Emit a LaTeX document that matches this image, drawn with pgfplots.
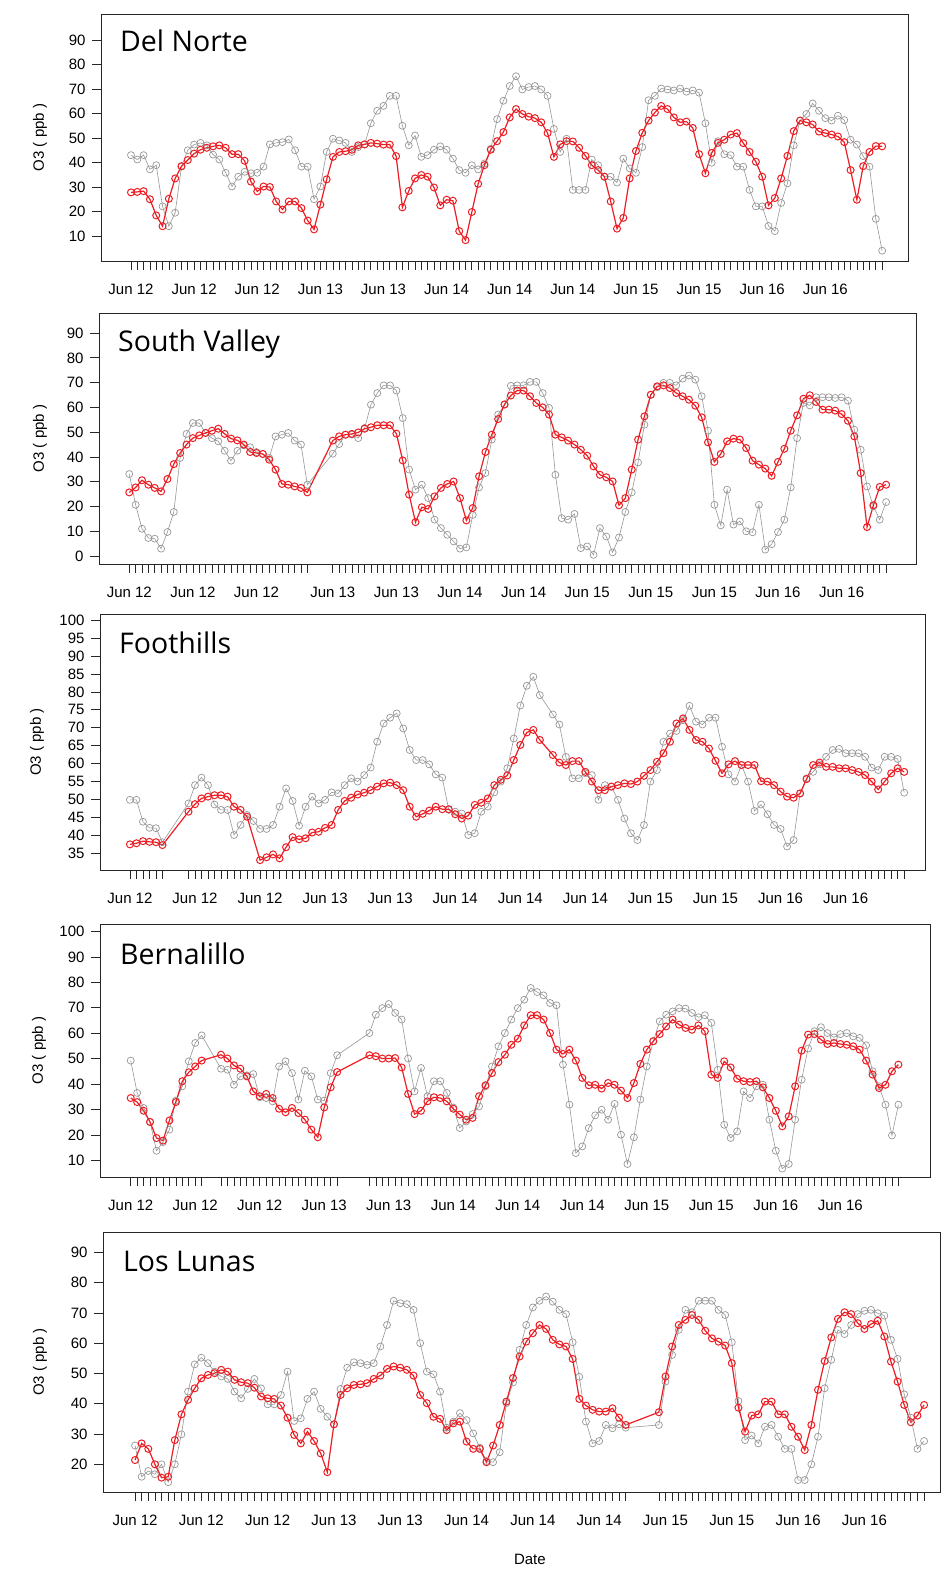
\documentclass[border=0pt]{standalone}
\usepackage{fontspec}
\setmainfont{Liberation Sans}
\newfontfamily\titlefont{Open Sans}
\usepackage{pgfplots}
\pgfplotsset{compat=1.18}
\definecolor{obsred}{RGB}{236,30,36}
\definecolor{modgray}{RGB}{150,150,150}
\tikzset{ttl/.style={font=\titlefont\fontsize{28.5}{30}\selectfont, anchor=base west, inner sep=0pt}}
\pgfplotsset{
  panel/.style={
    scale only axis, anchor=north west,
    axis line style={black!85, line width=0.8pt},
    tick align=outside, major tick length=9pt,
    every tick/.style={black!85, line width=0.7pt},
    xtick pos=bottom, ytick pos=left,
    xtick=data, xticklabels={},
    font=\fontsize{15}{17}\selectfont,
    tick label style={font=\fontsize{15}{17}\selectfont},
    /pgf/number format/assume math mode=true,
    yticklabel style={xshift=-3pt},
    xticklabel style={yshift=-10pt, text height=11pt, text depth=3pt},
    ylabel={O3 ( ppb )},
    ylabel style={anchor=center},
  },
  grayser/.style={draw=modgray, line width=0.6pt, mark=o, mark size=3.5pt,
    mark options={draw=modgray, line width=0.7pt, solid}},
  redser/.style={draw=obsred, line width=1.2pt, mark=o, mark size=3.5pt,
    mark options={draw=obsred, line width=1pt, solid}},
}
\begin{document}
\begin{tikzpicture}
\path[use as bounding box] (0pt,0pt) rectangle (952pt,-1570pt);

% ---------------- Del Norte
\begin{axis}[panel, at={(101pt,-14pt)}, width=807pt, height=247pt,
  xmin=-4.75, xmax=123.1, ymin=-0.2, ymax=100.6, ytick={10,20,...,90},
  extra x ticks={0,10,...,110},
  extra x tick labels={Jun 12,Jun 12,Jun 12,Jun 13,Jun 13,Jun 14,Jun 14,Jun 14,Jun 15,Jun 15,Jun 16,Jun 16},
  ylabel style={at={(axis description cs:-0.0756,0.5)}}]
\addplot[grayser] coordinates {(0,43)(1,41.2)(2,43)(3,37.2)(4,38.9)(5,22.1)(6,14)(7,19.5)(8,38.3)(9,45)(10,47.3)(11,48)(12,47)(13,43.2)(14,41.2)(15,35.8)(16,30.2)(17,34.2)(18,36.2)(19,35.6)(20,35.8)(21,38.3)(22,47.4)(23,48)(24,48.3)(25,49.4)(26,45)(27,38.3)(28,38.3)(29,25)(30,30.2)(31,44.3)(32,49.7)(33,49)(34,48)(35,44.3)(36,46.3)(37,47.3)(38,56)(39,61.1)(40,63.1)(41,67.2)(42,67.2)(43,55)(44,47)(45,51)(46,42.3)(47,43)(48,45.2)(49,46.6)(50,45.2)(51,41.6)(52,36.9)(53,35.8)(54,38.9)(55,37.2)(56,39.6)(57,45.6)(58,57.7)(59,65.2)(60,71.2)(61,75.2)(62,69.8)(63,70.8)(64,71.2)(65,69.8)(66,67.2)(67,53.7)(68,44.3)(69,49.7)(70,28.8)(71,28.8)(72,28.8)(73,41.2)(74,38.9)(75,34.2)(76,34.2)(77,31.8)(78,41.6)(79,37.6)(80,35.8)(81,46.3)(82,65.4)(83,67.2)(84,70.2)(85,69.8)(86,69.4)(87,70.2)(88,68.9)(89,69.4)(90,68.5)(91,56)(92,39.9)(93,48.7)(94,43.4)(95,43)(96,38.3)(97,38.3)(98,28.8)(99,22.1)(100,22.1)(101,14.1)(102,12)(103,23.5)(104,31.5)(105,47)(106,57.1)(107,59.8)(108,64.1)(109,61.1)(110,58.1)(111,57.1)(112,59.1)(113,57.3)(114,49.3)(115,47.3)(116,42.6)(117,38.3)(118,17)(119,4)};
\addplot[redser] coordinates {(0,27.8)(1,28)(2,28.3)(3,25)(4,18.4)(5,14)(6,25.2)(7,33.5)(8,38.5)(9,41)(10,43.6)(11,45.2)(12,46)(13,46.6)(14,47)(15,46)(16,43.4)(17,43.4)(18,40.7)(19,32.2)(20,28.2)(21,30.2)(22,30)(23,24.1)(24,20.8)(25,24.1)(26,24.1)(27,21.4)(28,16.3)(29,12.7)(30,22.8)(31,33.1)(32,42.3)(33,44.3)(34,44.6)(35,45.2)(36,47)(37,47.4)(38,48)(39,47.7)(40,47.3)(41,47.3)(42,42.6)(43,21.7)(44,28.4)(45,33.5)(46,34.9)(47,34.2)(48,29.8)(49,22.5)(50,24.8)(51,24.4)(52,12)(53,8.3)(54,19.8)(55,31.3)(56,38.9)(57,45.2)(58,48.7)(59,52.4)(60,58.4)(61,61.8)(62,59.8)(63,58.7)(64,58.1)(65,56.4)(66,52)(67,42.3)(68,47.4)(69,48.7)(70,48.6)(71,46)(72,42.7)(73,38.9)(74,36.9)(75,34.2)(76,24.1)(77,13)(78,17.4)(79,33.5)(80,44.7)(81,52.1)(82,57.1)(83,60.4)(84,63.1)(85,61.8)(86,58.4)(87,56.4)(88,56.7)(89,54.1)(90,43.4)(91,35.6)(92,43.9)(93,48)(94,49.3)(95,51.4)(96,52)(97,47.9)(98,44.3)(99,40.3)(100,34.2)(101,22.5)(102,25.5)(103,33.5)(104,42.7)(105,52.8)(106,57.1)(107,56.4)(108,55.5)(109,52.6)(110,52)(111,51.4)(112,50.6)(113,48.3)(114,36.9)(115,24.8)(116,38.5)(117,44.3)(118,46.7)(119,46.6)};
\node[ttl, xshift=19pt, yshift=-38pt] at (rel axis cs:0,1) {Del Norte};
\end{axis}

% ---------------- South Valley
\begin{axis}[panel, at={(99pt,-313pt)}, width=817pt, height=251pt,
  xmin=-4.76, xmax=123.7, ymin=-3.2, ymax=98.1, ytick={0,10,...,90},
  extra x ticks={0,10,20,32,42,52,62,72,82,92,102,112},
  extra x tick labels={Jun 12,Jun 12,Jun 12,Jun 13,Jun 13,Jun 14,Jun 14,Jun 15,Jun 15,Jun 15,Jun 16,Jun 16},
  ylabel style={at={(axis description cs:-0.0722,0.5)}}]
\addplot[grayser] coordinates {(0,33.1)(1,20.7)(2,11)(3,7.3)(4,7)(5,3)(6,9.7)(7,17.8)(8,39.6)(9,49.3)(10,53.7)(11,53.7)(12,49.7)(13,47.6)(14,46.3)(15,42.5)(16,38.5)(17,42.5)(18,44.7)(19,43.9)(20,42)(21,41.2)(22,39.6)(23,48.3)(24,49)(25,49.7)(26,46.6)(27,45)(28,28.8)(32,41.3)(33,45.2)(34,49)(35,49)(36,47.6)(37,51.7)(38,61.1)(39,65.8)(40,68.9)(41,68.9)(42,66.8)(43,55.7)(44,34.9)(45,26.8)(46,28.8)(47,23.4)(48,14.7)(49,11.3)(50,8.6)(51,5.9)(52,3)(53,3.5)(54,16.6)(55,27.7)(56,33.5)(57,47)(58,57.1)(59,61.1)(60,68.7)(61,68.9)(62,68.9)(63,70.3)(64,70.3)(65,65.8)(66,59.8)(67,32.8)(68,15.3)(69,14.7)(70,17)(71,3.2)(72,3.9)(73,0.5)(74,11.3)(75,7.9)(76,1.5)(77,7.5)(78,17.8)(79,25.7)(80,37.8)(81,53)(82,65.1)(83,68.1)(84,69.9)(85,69.9)(86,68.9)(87,71.6)(88,72.9)(89,71.2)(90,64.5)(91,50.6)(92,20.7)(93,12.4)(94,26.8)(95,12.7)(96,14)(97,10)(98,9.6)(99,20.7)(100,2.6)(101,4.8)(102,9.7)(103,14.7)(104,27.7)(105,47.6)(106,61.8)(107,60.8)(108,64.1)(109,64.1)(110,64.1)(111,63.8)(112,64.1)(113,62.7)(114,51)(115,42.9)(116,28.1)(117,20.1)(118,14.7)(119,21.8)};
\addplot[redser] coordinates {(0,25.7)(1,27.7)(2,30.6)(3,28.8)(4,27.5)(5,26.1)(6,31.1)(7,37.1)(8,41.6)(9,45)(10,47.6)(11,48.7)(12,49.7)(13,50.6)(14,51.4)(15,49.3)(16,47.4)(17,46.7)(18,45)(19,42)(20,41.6)(21,41.2)(22,38.9)(23,34.9)(24,29.1)(25,28.8)(26,28.1)(27,27.5)(28,25.7)(32,46.6)(33,48.3)(34,49)(35,49.3)(36,49.9)(37,51.4)(38,52)(39,52.8)(40,52.8)(41,52.8)(42,49.4)(43,38.6)(44,24.8)(45,13.7)(46,19.7)(47,19)(48,24.1)(49,27.5)(50,29.1)(51,30.1)(52,23.4)(53,14.4)(54,19.4)(55,32.2)(56,42)(57,49)(58,55.3)(59,61.2)(60,64.8)(61,66.8)(62,66.8)(63,64.5)(64,61.8)(65,60)(66,57.1)(67,49)(68,47.9)(69,46.6)(70,45)(71,42.9)(72,40.5)(73,36.2)(74,32.8)(75,31.8)(76,30.1)(77,20.5)(78,23.4)(79,34.9)(80,47)(81,56.4)(82,65.1)(83,68.5)(84,68.9)(85,67.8)(86,65.8)(87,64.5)(88,63.1)(89,60.7)(90,56)(91,45.9)(92,38)(93,41.2)(94,46.3)(95,47.4)(96,47)(97,43.6)(98,38.5)(99,36.9)(100,35.3)(101,32.4)(102,38)(103,43.3)(104,50.6)(105,56.8)(106,63.5)(107,64.9)(108,62.2)(109,59.1)(110,59.1)(111,58.7)(112,57.3)(113,54.6)(114,48.3)(115,33.5)(116,11.7)(117,20.5)(118,27.9)(119,28.8)};
\node[ttl, xshift=19pt, yshift=-38pt] at (rel axis cs:0,1) {South Valley};
\end{axis}

% ---------------- Foothills
\begin{axis}[panel, at={(100pt,-614pt)}, width=825pt, height=256pt,
  xmin=-4.6, xmax=122.2, ymin=30.35, ymax=101.7, ytick={35,40,...,100},
  extra x ticks={0,10,...,110},
  extra x tick labels={Jun 12,Jun 12,Jun 12,Jun 13,Jun 13,Jun 14,Jun 14,Jun 14,Jun 15,Jun 15,Jun 16,Jun 16},
  ylabel style={at={(axis description cs:-0.0764,0.5)}}]
\addplot[grayser] coordinates {(0,49.9)(1,49.9)(2,43.8)(3,42.1)(4,42)(5,38.1)(9,48.9)(10,54)(11,56.1)(12,54)(13,48.6)(14,47.1)(15,47.1)(16,40.1)(17,42.9)(18,45.7)(19,44)(20,41.8)(21,41.8)(22,42.9)(23,48)(24,53.1)(25,49.6)(26,42.7)(27,48)(28,50.8)(29,48.9)(30,49.9)(31,52)(32,51.7)(33,54)(34,55.9)(35,55)(36,56.8)(37,58.9)(38,66.1)(39,71.2)(40,72.8)(41,74)(42,69.8)(43,63.8)(44,61)(45,61)(46,59.8)(47,57)(48,56.1)(49,47.1)(50,46.6)(51,46.1)(52,40.1)(53,40.6)(54,46.6)(55,48)(56,52)(57,55)(58,58.7)(59,67)(60,76.2)(61,81.7)(62,84.2)(63,79.1)(65,73.7)(66,70.9)(67,61.9)(68,55.9)(69,55.9)(70,57.3)(71,56.8)(72,49.9)(73,54)(74,53.6)(75,49.9)(76,44.7)(77,40.6)(78,38.7)(79,42.9)(80,55)(81,58.2)(82,66.1)(83,68.4)(84,69.1)(85,72.1)(86,76.1)(87,71.7)(88,70.9)(89,72.8)(90,72.8)(91,64.7)(92,57)(93,55)(94,59.6)(95,55)(96,46.8)(97,48.6)(98,45.9)(99,42.9)(100,41.8)(101,36.9)(102,38.7)(103,51.7)(104,55.9)(105,57.7)(106,59.8)(107,61.9)(108,63.8)(109,64.1)(110,62.9)(111,62.9)(112,62.9)(113,61.9)(114,58.9)(115,58.2)(116,61.9)(117,61.9)(118,61.3)(119,51.9)};
\addplot[redser] coordinates {(0,37.5)(1,37.8)(2,38.4)(3,38.2)(4,38.1)(5,37.3)(9,46.6)(10,48.7)(11,50.3)(12,50.8)(13,51.2)(14,51.2)(15,50.8)(16,48)(17,47.1)(18,45.2)(20,33.1)(21,33.9)(22,34.7)(23,33.6)(24,36.7)(25,39.5)(26,38.9)(27,39.2)(28,40.8)(29,41)(30,42.1)(31,42.9)(32,47.1)(33,49.6)(34,50.5)(35,51.4)(36,51.9)(37,52.6)(38,53.6)(39,54.5)(40,54.7)(41,54)(42,52.6)(43,48)(44,45.2)(45,46)(46,46.9)(47,48)(48,47.3)(49,47.3)(50,45.9)(51,44.7)(52,45.5)(53,48.5)(54,49.1)(55,50.3)(56,54)(57,55.5)(58,56.7)(59,61)(60,65.2)(61,68.7)(62,69.4)(63,66.6)(65,62.4)(66,60.3)(67,59.6)(68,60.7)(69,60.7)(70,57.7)(71,55)(72,52.6)(73,52.6)(74,53.6)(75,54)(76,54.5)(77,54.3)(78,55)(79,56.6)(80,58.2)(81,60.5)(82,62.9)(83,66.1)(84,71.2)(85,72.6)(86,69.4)(87,66.6)(88,66.1)(89,64.2)(90,60.8)(91,57.3)(92,59.8)(93,60.7)(94,59.6)(95,59.6)(96,59.6)(97,55.1)(98,55)(99,54)(100,52.2)(101,50.8)(102,50.5)(103,51.7)(104,55.7)(105,59.6)(106,60.3)(107,59.1)(108,59.1)(109,58.7)(110,58.7)(111,58.2)(112,57.7)(113,56.8)(114,55)(115,52.8)(116,55)(117,57.3)(118,58.7)(119,57.7)};
\node[ttl, xshift=19pt, yshift=-39pt] at (rel axis cs:0,1) {Foothills};
\end{axis}

% ---------------- Bernalillo
\begin{axis}[panel, at={(100pt,-924pt)}, width=830pt, height=253pt,
  xmin=-4.76, xmax=123.9, ymin=3.6, ymax=102.9, ytick={10,20,...,100},
  extra x ticks={0,10,...,110},
  extra x tick labels={Jun 12,Jun 12,Jun 12,Jun 13,Jun 13,Jun 14,Jun 14,Jun 14,Jun 15,Jun 15,Jun 16,Jun 16},
  ylabel style={at={(axis description cs:-0.0735,0.5)}}]
\addplot[grayser] coordinates {(0,49.3)(1,36.6)(2,30.7)(3,25.2)(4,13.9)(5,17.3)(6,22.2)(7,33.6)(8,39.2)(9,49)(10,56.2)(11,59.2)(14,46.1)(15,45.7)(16,39.8)(17,43.1)(18,43.5)(19,44)(20,34.9)(21,34.6)(22,33.3)(23,47)(24,49)(25,44.4)(26,34)(27,45.3)(28,43.1)(29,34)(30,33.6)(31,44.4)(32,51.4)(37,60.1)(38,67.3)(39,69.9)(40,71.5)(41,68)(42,65.4)(43,50.1)(44,37.2)(45,46.4)(46,35.3)(47,41.2)(48,41.2)(49,36.6)(50,30.9)(51,22.8)(52,25.4)(53,28.3)(54,31.3)(55,39.2)(56,47)(57,54.9)(58,60.1)(59,65.4)(60,69.9)(61,73.2)(62,77.8)(63,76.2)(64,74.9)(65,71.9)(66,71)(67,47.7)(68,32)(69,13)(70,15.6)(71,22.8)(72,27.8)(73,30)(74,26.1)(75,32.3)(76,20.2)(77,8.7)(78,19.2)(79,34)(80,47)(81,56.9)(82,64.7)(83,67.3)(84,68.6)(85,69.9)(86,69.7)(87,68)(88,66.3)(89,67.1)(90,64.1)(91,45.7)(92,24.1)(93,18.9)(94,21.5)(95,37.2)(96,34.6)(97,39.2)(98,39.8)(99,26.1)(100,13.9)(101,6.9)(102,8.7)(103,26.1)(104,41.8)(105,54)(106,60.8)(107,62.4)(108,60.1)(109,58.4)(110,59.7)(111,60.1)(112,58.8)(113,58.2)(114,55.3)(115,45.1)(116,39.2)(117,32)(118,19.9)(119,32)};
\addplot[redser] coordinates {(0,34.6)(1,33)(2,29.6)(3,25.2)(4,18.9)(5,17.9)(6,25.8)(7,33)(8,41.2)(9,44.7)(10,47)(11,49.3)(14,51.6)(15,50.1)(16,47.4)(17,46.1)(18,43.1)(19,37.2)(20,35.3)(21,36.2)(22,34.6)(23,30.4)(24,29)(25,30.7)(26,28.7)(27,26.1)(28,22.2)(29,19.2)(30,30.9)(31,38.8)(32,44.8)(37,51.4)(38,51)(39,50.1)(40,50.1)(41,50.3)(42,46.6)(43,36.2)(44,28.3)(45,29.6)(46,33.3)(47,34.9)(48,34.6)(49,33.3)(50,30.4)(51,28.1)(52,26.1)(53,26.8)(54,35.3)(55,39.6)(56,44.4)(57,48.7)(58,51.6)(59,55.5)(60,57.9)(61,63.1)(62,67.1)(63,67.1)(64,65.4)(65,60.1)(66,53.6)(67,51.9)(68,53.6)(69,49.3)(70,42.5)(71,39.6)(72,39.8)(73,38.3)(74,40.5)(75,39.8)(76,37.5)(77,34.6)(78,40.5)(79,48)(80,53.6)(81,56.9)(82,59.7)(83,62.7)(84,65.4)(85,63.4)(86,62.1)(87,61.4)(88,63.1)(89,60.8)(90,43.8)(91,42.5)(92,49)(93,46.6)(94,42.2)(95,41.2)(96,40.9)(97,41.2)(98,38.8)(99,34.6)(100,29.6)(101,23.5)(102,27.4)(103,39.2)(104,53.2)(105,59.5)(106,59.7)(107,57.5)(108,55.8)(109,56.2)(110,55.8)(111,55.5)(112,54.9)(113,53.6)(114,49.3)(115,43.8)(116,38.5)(117,39.8)(118,45.1)(119,47.7)};
\node[ttl, xshift=20pt, yshift=-40pt] at (rel axis cs:0,1) {Bernalillo};
\end{axis}

% ---------------- Los Lunas
\begin{axis}[panel, at={(103pt,-1232pt)}, width=837pt, height=260pt,
  xmin=-4.83, xmax=121.4, ymin=10.85, ymax=96.7, ytick={20,30,...,90},
  extra x ticks={0,10,...,110},
  extra x tick labels={Jun 12,Jun 12,Jun 12,Jun 13,Jun 13,Jun 14,Jun 14,Jun 14,Jun 15,Jun 15,Jun 16,Jun 16},
  ylabel style={at={(axis description cs:-0.0753,0.5)}},
  xlabel={Date}, xlabel style={at={(axis description cs:0.51,0)}, anchor=center, yshift=-67pt}]
\addplot[grayser] coordinates {(0,26.2)(1,15.9)(2,17.8)(3,16.7)(4,20)(5,14.1)(6,20)(7,29.9)(8,44)(9,53)(10,55.2)(11,53.4)(12,50.6)(13,49)(14,48.2)(15,44)(16,41.8)(17,44.9)(18,48.2)(19,45.1)(20,39.8)(21,39.8)(22,42.9)(23,50.6)(24,34.3)(25,35.2)(26,41.6)(27,44)(28,38.3)(29,35.7)(30,33.2)(31,44.9)(32,51.9)(33,53.7)(34,53.4)(35,52.8)(36,53.4)(37,58.9)(38,66)(39,74)(40,73.2)(41,72.9)(42,71)(43,60)(44,50.6)(45,49.7)(46,44)(47,32.1)(48,34.1)(49,36.9)(50,34.6)(51,30.2)(52,25.5)(53,21.1)(54,20.7)(55,24)(56,40.2)(57,47)(58,57.8)(59,66)(60,71.8)(61,74)(62,75.4)(63,73.7)(64,71)(65,69.6)(66,60.3)(67,48.9)(68,34.1)(69,26.9)(70,27.7)(71,33)(72,31.9)(73,33.2)(74,32.1)(79,33)(80,47.3)(81,56.1)(82,64.4)(83,71)(84,70.2)(85,74)(86,74)(87,74)(88,71)(89,69.3)(90,60.3)(91,40.9)(92,28)(93,29.5)(94,26.9)(95,32.4)(96,33)(97,29.1)(98,25.1)(99,25.1)(100,14.8)(101,14.8)(102,20)(103,29.1)(104,45.1)(105,54.5)(106,64.4)(107,63)(108,66)(109,69.6)(110,70.7)(111,71)(112,69.9)(113,69.1)(114,61.1)(115,54.8)(116,43.1)(117,35.4)(118,25.1)(119,27.7)};
\addplot[redser] coordinates {(0,21.4)(1,26.9)(2,25.1)(3,20)(4,15.6)(5,15.9)(6,28)(7,36.5)(8,41.3)(9,45.1)(10,48.4)(11,49.5)(12,50.1)(13,51.2)(14,50.6)(15,47.9)(16,47.1)(17,46.8)(18,45.3)(19,42.4)(20,41.8)(21,41.6)(22,39.4)(23,35.4)(24,29.7)(25,26.9)(26,30.8)(27,27.7)(28,23.6)(29,17.4)(30,33.2)(31,42.9)(32,45.1)(33,46.2)(34,46.4)(35,46.8)(36,48.2)(37,49.3)(38,51.5)(39,52.3)(40,51.9)(41,51.2)(42,49.3)(43,42.9)(44,40.2)(45,35.7)(46,35)(47,31.3)(48,33.5)(49,34.1)(50,27.5)(51,25.1)(52,25.1)(53,20.7)(54,26.2)(55,33)(56,40.7)(57,48.5)(58,55.6)(59,60.5)(60,63.3)(61,66)(62,64.7)(63,61.1)(64,59.6)(65,58.9)(66,54.8)(67,41.6)(68,39.4)(69,38)(70,37.4)(71,37.4)(72,38.5)(73,35.4)(74,33)(79,37.2)(80,49)(81,58.9)(82,66)(83,67.7)(84,69.3)(85,67.7)(86,64.1)(87,61.6)(88,60.5)(89,59.2)(90,53.4)(91,38.7)(92,30.8)(93,36.1)(94,36.5)(95,40.7)(96,40.7)(97,36.5)(98,36.5)(99,32.4)(100,29.1)(101,24.7)(102,33)(103,44.6)(104,54.1)(105,61.9)(106,68)(107,70.2)(108,69.6)(109,66.6)(110,64.7)(111,66.3)(112,67.4)(113,62.2)(114,53.9)(115,47.3)(116,39.6)(117,33.9)(118,36.1)(119,39.6)};
\node[ttl, xshift=20pt, yshift=-39pt] at (rel axis cs:0,1) {Los Lunas};
\end{axis}
\end{tikzpicture}
\end{document}
